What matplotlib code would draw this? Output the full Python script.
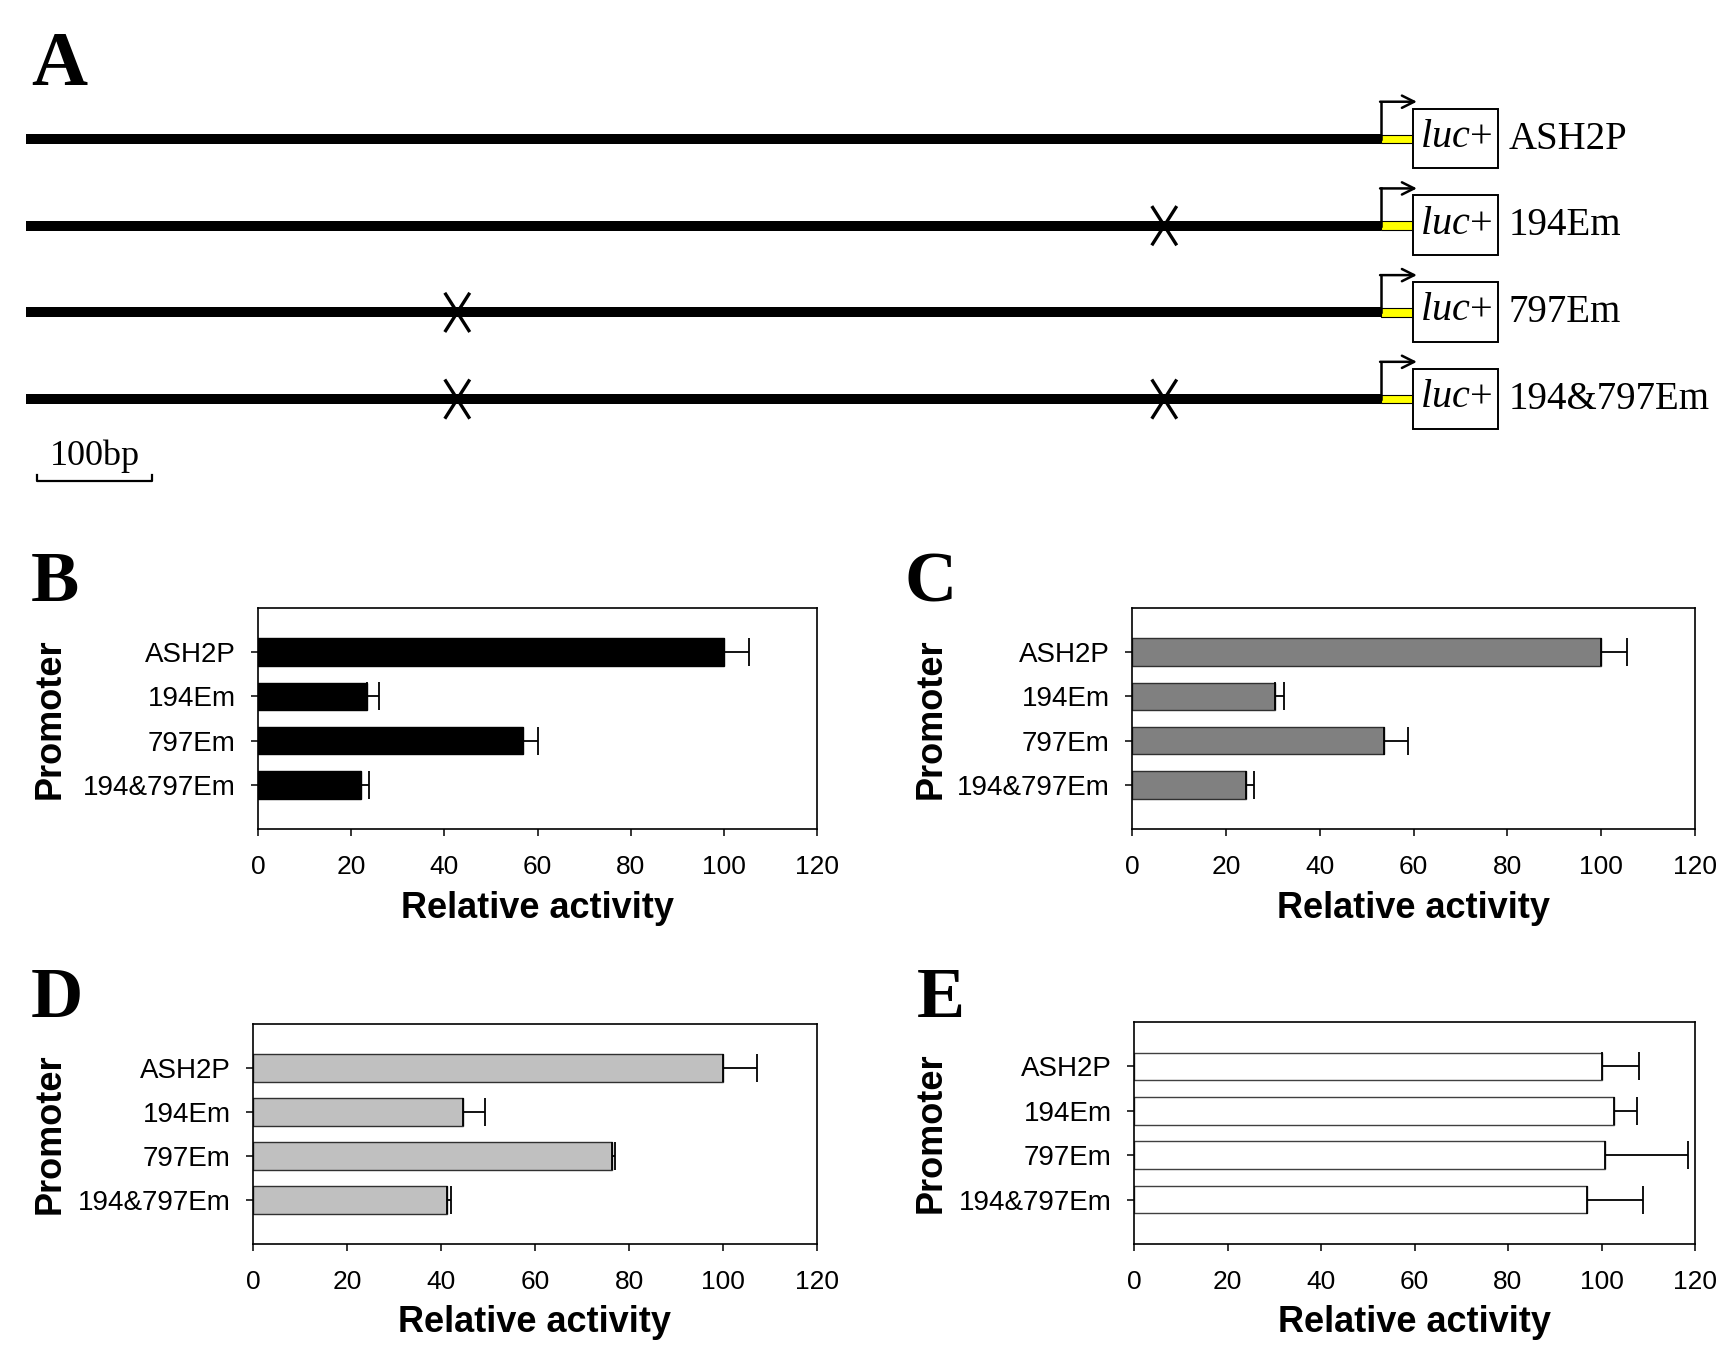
"""Promoter deletion/mutation constructs (A) and their luciferase activity (B-E)."""
import matplotlib
matplotlib.use("Agg")
import matplotlib.pyplot as plt
from matplotlib.patches import Rectangle

plt.rcParams["font.family"] = ["Liberation Sans", "DejaVu Sans"]
plt.rcParams["mathtext.fontset"] = "custom"
plt.rcParams["mathtext.rm"] = "Liberation Serif"
plt.rcParams["mathtext.it"] = "Liberation Serif:italic"

SERIF = ["Liberation Serif", "DejaVu Serif"]

# ---- panel A: constructs ----
CONSTRUCTS = ["ASH2P", "194Em", "797Em", "194&797Em"]
# mutated sites as drawn on each construct, bp upstream of the TSS
MUTATIONS = [[], [187], [797], [187, 797]]
PROMOTER_BP = 1169
SCALE_BP = 100

# ---- panels B-E: relative luciferase activity ----
CATEGORIES = ["ASH2P", "194Em", "797Em", "194&797Em"]
B_MEAN = [100, 23.5, 56.8, 22.2]
B_ERR = [5.5, 2.4, 3.3, 1.6]
C_MEAN = [100, 30.5, 53.7, 24.3]
C_ERR = [5.5, 1.9, 5.1, 1.7]
D_MEAN = [100, 44.6, 76.3, 41.3]
D_ERR = [7.3, 4.8, 0.8, 0.9]
E_MEAN = [100, 102.6, 100.8, 96.9]
E_ERR = [8.0, 5.0, 17.7, 12.0]

W, H = 1736, 1367
fig = plt.figure(figsize=(W / 100, H / 100), dpi=100)


def fx(px):
    return px / W


def fy(px):
    return 1 - px / H


# ------------------------------------------------------------------ A
PX_PER_BP = 1.159
TSS_PX = 1381
ROW0_PX, ROW_PITCH = 139, 86.7
ax_a = fig.add_axes([0, fy(520), 1, 520 / H])
ax_a.set_xlim(-TSS_PX / PX_PER_BP, (W - TSS_PX) / PX_PER_BP)
ax_a.set_ylim((520 - ROW0_PX) / ROW_PITCH, -ROW0_PX / ROW_PITCH)
ax_a.axis("off")

for row, (name, muts) in enumerate(zip(CONSTRUCTS, MUTATIONS)):
    ax_a.plot([-PROMOTER_BP, 0], [row, row], color="black", lw=7.2,
              solid_capstyle="butt", zorder=2)
    ax_a.add_patch(Rectangle((0, row - 0.05), 29, 0.1, facecolor="#ffff00",
                             edgecolor="black", lw=0.8, zorder=3))
    ax_a.add_patch(Rectangle((28, row - 0.35), 73, 0.69, facecolor="white",
                             edgecolor="black", lw=1.4, zorder=3))
    ax_a.plot([0, 0], [row, row - 0.43], color="black", lw=1.8, zorder=3)
    ax_a.annotate("", xy=(31, row - 0.43), xytext=(-0.8, row - 0.43),
                  arrowprops=dict(arrowstyle="->", lw=1.8, color="black",
                                  mutation_scale=22, shrinkA=0, shrinkB=0))
    ax_a.text(65, row + 0.09, r"$\mathit{luc}$+", fontsize=29, family=SERIF,
              ha="center", va="baseline", zorder=4)
    ax_a.text(110, row + 0.11, name, fontsize=28, family=SERIF,
              ha="left", va="baseline")
    for m in muts:
        for s in (1, -1):
            ax_a.plot([-m - 10, -m + 10], [row - 0.21 * s, row + 0.21 * s],
                      color="black", lw=2.4, zorder=4)

# scale bar
sb_left = -1160
sb_y = (481 - ROW0_PX) / ROW_PITCH
ax_a.plot([sb_left, sb_left, sb_left + SCALE_BP, sb_left + SCALE_BP],
          [sb_y - 0.07, sb_y, sb_y, sb_y - 0.07], color="black", lw=1.6)
ax_a.text(sb_left + SCALE_BP / 2, (465 - ROW0_PX) / ROW_PITCH, "100bp",
          fontsize=26, family=SERIF, ha="center", va="baseline")

# ------------------------------------------------------------------ B-E
# letter, means, errors, bar face, bar edge, axes box (l, r, t, b) in px,
# x of the "Promoter" label in px, letter position (x, baseline) in px
PANELS = [
    ("B", B_MEAN, B_ERR, "black", "black", (258, 817, 608, 829), 50, (31, 601)),
    ("C", C_MEAN, C_ERR, "#808080", "#303030", (1132, 1695, 608, 829), 931, (905, 601)),
    ("D", D_MEAN, D_ERR, "#c0c0c0", "#303030", (253, 817, 1024, 1244), 50, (31, 1017)),
    ("E", E_MEAN, E_ERR, "white", "#404040", (1134, 1695, 1022, 1244), 931, (917, 1017)),
]

for letter, mean, err, color, edge, (l, r, t, b), ylab_x, (lx, ly) in PANELS:
    ax = fig.add_axes([fx(l), fy(b), fx(r - l), (b - t) / H])
    pos = range(len(CATEGORIES))
    ax.barh(pos, mean, height=0.62, color=color, edgecolor=edge, lw=1.0, zorder=2)
    ax.errorbar(mean, pos, xerr=[[0] * len(err), err], fmt="none",
                ecolor="black", elinewidth=1.3, capsize=10, capthick=1.3,
                zorder=3)
    ax.set_yticks(list(pos))
    ax.set_yticklabels(CATEGORIES, fontsize=20)
    ax.set_ylim(4, -1)
    ax.set_xlim(0, 120)
    ax.set_xticks(range(0, 121, 20))
    ax.tick_params(axis="x", labelsize=19, length=5, width=1.1, pad=14)
    ax.tick_params(axis="y", length=5, width=1.1, pad=11)
    for sp in ax.spines.values():
        sp.set_linewidth(1.2)
        sp.set_color("black")
    ax.set_xlabel("Relative activity", fontsize=26, fontweight="bold",
                  labelpad=8)
    ax.text((ylab_x - l) / (r - l), 0.5, "Promoter", transform=ax.transAxes,
            rotation=90, fontsize=26, fontweight="bold",
            ha="center", va="center")
    fig.text(fx(lx), fy(ly), letter, fontsize=52, fontweight="bold",
             family=SERIF, ha="left", va="baseline")

fig.text(fx(31), fy(85), "A", fontsize=56, fontweight="bold", family=SERIF,
         ha="left", va="baseline")

fig.savefig("out.png", dpi=100)
